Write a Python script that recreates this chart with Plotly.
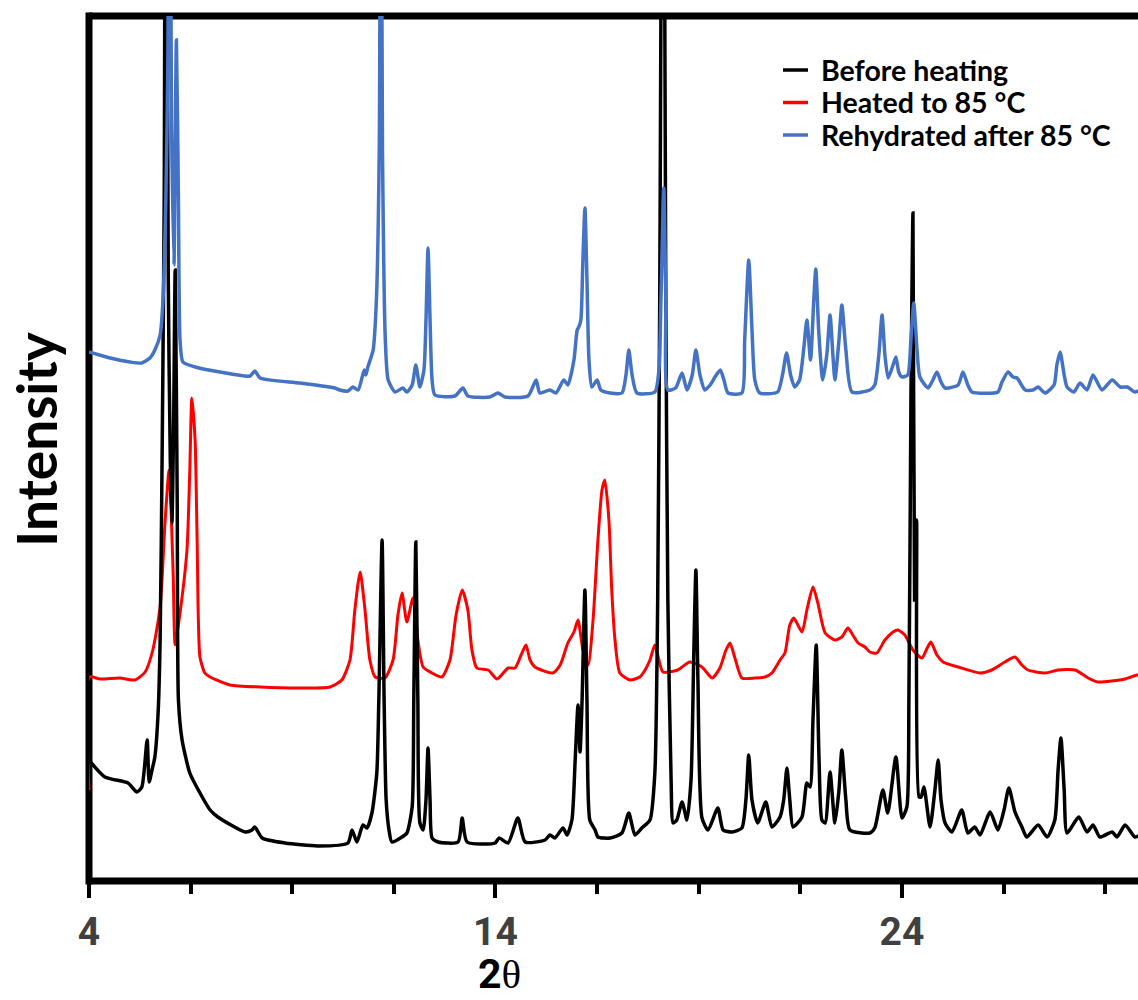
import plotly.graph_objects as go

# Powder XRD patterns: 2θ (degrees) and intensity (arbitrary units)
two_theta_before = [
    4.00, 4.39, 4.96, 5.18, 5.30, 5.43, 5.48, 5.55, 5.62, 5.70, 5.75, 5.80, 5.85, 5.89,
    5.95, 6.00, 6.04, 6.08, 6.12, 6.17, 6.20, 6.29, 6.48, 6.73, 6.98, 7.17, 7.84, 8.01,
    8.08, 8.26, 8.82, 9.63, 10.37, 10.47, 10.59, 10.74, 10.84, 10.96, 11.08, 11.13, 11.21,
    11.26, 11.31, 11.38, 11.45, 11.70, 11.82, 11.95, 11.99, 12.04, 12.09, 12.14, 12.22,
    12.29, 12.34, 12.39, 12.44, 12.59, 13.08, 13.18, 13.30, 13.99, 14.09, 14.31, 14.55,
    14.73, 15.22, 15.34, 15.46, 15.66, 15.76, 15.88, 15.96, 16.03, 16.08, 16.13, 16.20,
    16.25, 16.32, 16.45, 16.52, 16.82, 17.11, 17.28, 17.43, 17.60, 17.80, 17.92, 17.99,
    18.04, 18.12, 18.19, 18.24, 18.32, 18.37, 18.46, 18.59, 18.71, 18.81, 18.88, 18.93,
    18.98, 19.08, 19.23, 19.47, 19.60, 19.82, 20.06, 20.16, 20.23, 20.31, 20.45, 20.65,
    20.80, 21.00, 21.09, 21.17, 21.24, 21.32, 21.54, 21.66, 21.74, 21.81, 21.89, 21.96,
    22.03, 22.11, 22.23, 22.35, 22.45, 22.52, 22.62, 22.72, 23.21, 23.33, 23.53, 23.65,
    23.85, 24.00, 24.12, 24.17, 24.22, 24.27, 24.31, 24.36, 24.42, 24.47, 24.54, 24.69,
    24.81, 24.89, 24.96, 25.06, 25.23, 25.47, 25.62, 25.79, 25.92, 26.17, 26.36, 26.51,
    26.63, 26.78, 26.95, 27.07, 27.35, 27.57, 27.76, 27.84, 27.91, 27.99, 28.06, 28.35,
    28.55, 28.70, 28.87, 29.17, 29.29, 29.49, 29.73, 29.86,
]
intensity_before = [
    121, 104, 98, 89, 94, 141, 99, 111, 124, 168, 241, 431, 681, 1300,
    600, 420, 358, 450, 611, 381, 181, 141, 108, 88, 71, 64, 49, 51,
    54, 43, 38, 35, 38, 51, 39, 56, 53, 68, 108, 181, 341,
    181, 81, 51, 39, 44, 48, 74, 181, 339, 181, 58, 51,
    81, 133, 81, 43, 39, 39, 63, 39, 38, 43, 38, 63,
    39, 41, 46, 43, 53, 46, 61, 121, 176, 129, 181, 291,
    181, 61, 51, 44, 43, 48, 68, 46, 53, 61, 108, 281,
    581, 1300, 581, 281, 101, 58, 61, 79, 61, 101, 231, 311,
    201, 63, 51, 73, 51, 49, 53, 81, 126, 81, 58, 79,
    54, 64, 81, 113, 81, 54, 64, 98, 94, 161, 236, 121,
    61, 58, 109, 58, 91, 131, 81, 51, 48, 53, 91, 68,
    124, 63, 74, 181, 481, 668, 281, 361, 84, 84, 94, 54,
    91, 121, 81, 58, 49, 71, 48, 54, 46, 69, 51, 71,
    93, 69, 54, 44, 56, 44, 61, 111, 143, 91, 48, 64,
    49, 56, 44, 49, 44, 56, 44, 46,
]

two_theta_heated = [
    4.00, 4.01, 4.27, 4.76, 5.13, 5.38, 5.57, 5.75, 5.87, 5.97, 6.07, 6.12, 6.24, 6.41,
    6.48, 6.53, 6.61, 6.66, 6.73, 6.85, 6.98, 7.47, 8.21, 9.19, 9.93, 10.22, 10.42, 10.54,
    10.67, 10.79, 10.91, 11.04, 11.28, 11.48, 11.60, 11.70, 11.82, 11.97, 12.09, 12.22,
    12.44, 12.68, 12.88, 13.03, 13.18, 13.32, 13.42, 13.54, 13.82, 14.04, 14.31, 14.48,
    14.63, 14.75, 14.85, 14.97, 15.41, 15.59, 15.78, 15.93, 16.03, 16.15, 16.28, 16.40,
    16.52, 16.62, 16.69, 16.79, 16.86, 16.94, 17.06, 17.31, 17.55, 17.68, 17.80, 17.92,
    18.02, 18.12, 18.48, 18.78, 19.08, 19.33, 19.52, 19.67, 19.77, 19.89, 20.06, 20.38,
    20.63, 20.80, 21.00, 21.12, 21.24, 21.34, 21.54, 21.66, 21.81, 21.93, 22.11, 22.35,
    22.52, 22.67, 22.79, 22.92, 23.09, 23.21, 23.38, 23.58, 23.78, 23.90, 24.07, 24.27,
    24.49, 24.62, 24.71, 24.86, 25.01, 25.38, 25.92, 26.21, 26.53, 26.78, 26.95, 27.10,
    27.52, 27.84, 28.26, 28.58, 28.82, 29.49, 29.78, 29.86,
]
intensity_heated = [
    91, 204, 202, 203, 201, 209, 231, 274, 358, 411, 308, 236, 268, 331,
    411, 483, 441, 341, 224, 208, 204, 196, 194, 193, 194, 201, 221, 271,
    309, 271, 221, 204, 203, 221, 266, 288, 259, 283, 241, 214,
    208, 204, 221, 266, 291, 271, 231, 213, 211, 202, 213, 213,
    226, 236, 221, 214, 208, 216, 238, 249, 261, 231, 216, 261,
    341, 391, 401, 361, 291, 241, 208, 201, 204, 211, 221, 236,
    221, 209, 211, 219, 214, 203, 213, 231, 238, 223, 203, 203,
    204, 208, 221, 228, 256, 263, 249, 271, 294, 278, 248, 241,
    244, 253, 246, 238, 234, 229, 228, 241, 249, 251, 246, 231,
    223, 233, 239, 226, 219, 214, 208, 211, 219, 224, 216, 211,
    208, 211, 211, 203, 199, 202, 206, 206,
]

two_theta_rehydrated = [
    4.00, 4.52, 5.01, 5.30, 5.50, 5.62, 5.75, 5.82, 5.89, 5.94, 5.98, 6.03, 6.09, 6.15,
    6.20, 6.24, 6.31, 6.61, 7.22, 7.96, 8.08, 8.21, 9.19, 10.05, 10.17, 10.37, 10.49,
    10.62, 10.77, 10.81, 10.86, 10.99, 11.07, 11.14, 11.18, 11.22, 11.29, 11.36, 11.53,
    11.72, 11.82, 11.95, 12.04, 12.14, 12.24, 12.29, 12.34, 12.39, 12.44, 12.51, 13.00,
    13.20, 13.32, 13.86, 14.06, 14.23, 14.80, 15.00, 15.09, 15.34, 15.49, 15.68, 15.78,
    15.93, 16.01, 16.05, 16.10, 16.15, 16.20, 16.25, 16.30, 16.37, 16.50, 16.59, 16.82,
    17.11, 17.21, 17.28, 17.36, 17.48, 17.92, 18.02, 18.07, 18.14, 18.19, 18.24, 18.43,
    18.59, 18.71, 18.84, 18.93, 19.03, 19.15, 19.28, 19.40, 19.53, 19.62, 19.72, 20.06,
    20.13, 20.23, 20.31, 20.38, 20.50, 20.94, 21.06, 21.16, 21.26, 21.36, 21.48, 21.58,
    21.66, 21.75, 21.83, 21.88, 21.95, 22.05, 22.15, 22.23, 22.30, 22.35, 22.45, 22.52,
    22.62, 22.77, 23.21, 23.33, 23.43, 23.51, 23.58, 23.66, 23.78, 23.85, 23.92, 24.00,
    24.14, 24.22, 24.29, 24.37, 24.44, 24.64, 24.76, 24.86, 24.96, 25.06, 25.38, 25.50,
    25.62, 25.72, 26.36, 26.46, 26.61, 26.73, 26.83, 27.03, 27.22, 27.35, 27.52, 27.74,
    27.81, 27.89, 27.99, 28.06, 28.23, 28.38, 28.55, 28.70, 28.92, 29.17, 29.37, 29.54,
    29.73, 29.86,
]
intensity_rehydrated = [
    529, 523, 519, 518, 523, 531, 546, 581, 681, 821, 1200, 761, 616, 841,
    681, 541, 519, 514, 509, 505, 510, 503, 498, 493, 491, 490, 494,
    491, 511, 506, 514, 531, 581, 731, 1150, 731, 541, 501, 489,
    493, 489, 496, 516, 494, 511, 561, 633, 561, 501, 486, 485,
    493, 485, 484, 488, 484, 485, 501, 488, 491, 488, 501, 496,
    521, 551, 554, 561, 621, 673, 601, 521, 494, 501, 491, 488,
    488, 506, 531, 506, 488, 489, 511, 581, 693, 581, 491, 493,
    508, 491, 506, 531, 506, 491, 496, 504, 511, 501, 488, 488,
    541, 621, 551, 501, 488, 489, 506, 528, 506, 494, 501, 531,
    561, 521, 581, 612, 551, 501, 526, 566, 526, 501, 541, 576,
    531, 489, 491, 496, 526, 566, 526, 503, 516, 524, 509, 504,
    506, 541, 578, 531, 504, 493, 501, 509, 499, 493, 496, 509,
    496, 489, 489, 499, 509, 504, 503, 491, 491, 494, 488, 496,
    516, 529, 506, 494, 489, 498, 491, 506, 491, 501, 494, 494,
    489, 491,
]

series_names = ["Before heating", "Heated to 85 °C", "Rehydrated after 85 °C"]
series_colors = ["#000000", "#FF0000", "#4472C4"]
x_tick_values = [4, 14, 24]
x_tick_labels = ["4", "14", "24"]

# Plot-area geometry in pixels (figure is 1138 x 1000)
PLOT_LEFT, PLOT_TOP, PLOT_BOTTOM, PLOT_WIDTH = 89, 16, 881, 1049
PLOT_HEIGHT = PLOT_BOTTOM - PLOT_TOP


def paper_x(px):
    return (px - PLOT_LEFT) / PLOT_WIDTH


def paper_y(py):
    return (PLOT_BOTTOM - py) / PLOT_HEIGHT


fig = go.Figure()

# Heated pattern sits underneath, the rehydrated one on top
line_style = dict(shape="spline", smoothing=0.6)
fig.add_trace(go.Scatter(
    x=two_theta_heated, y=intensity_heated, mode="lines", name=series_names[1],
    line=dict(color=series_colors[1], width=3, **line_style), showlegend=False,
))
fig.add_trace(go.Scatter(
    x=two_theta_before, y=intensity_before, mode="lines", name=series_names[0],
    line=dict(color=series_colors[0], width=3.5, **line_style), showlegend=False,
))
fig.add_trace(go.Scatter(
    x=two_theta_rehydrated, y=intensity_rehydrated, mode="lines", name=series_names[2],
    line=dict(color=series_colors[2], width=3.5, **line_style), showlegend=False,
))

# Heavy frame on the left, bottom and top edges of the plotting area
frame = dict(type="line", xref="paper", yref="paper", layer="below",
             line=dict(color="black", width=7))
fig.add_shape(**frame, x0=0, x1=0, y0=-0.004, y1=1.004)
fig.add_shape(**frame, x0=0, x1=1, y0=0, y1=0)
fig.add_shape(**frame, x0=0, x1=1, y0=1, y1=1)

# Compact legend block in the upper right: short line sample + bold label
legend_rows = [70, 102.5, 135]
for name, color, row in zip(series_names, series_colors, legend_rows):
    fig.add_shape(type="line", xref="paper", yref="paper",
                  x0=paper_x(783), x1=paper_x(808), y0=paper_y(row), y1=paper_y(row),
                  line=dict(color=color, width=3.5))
    fig.add_annotation(
        x=paper_x(819), y=paper_y(row), xref="paper", yref="paper",
        xanchor="left", yanchor="middle", text=name, showarrow=False,
        font=dict(family="Lato, sans-serif", size=28.5, color="black", weight="bold"),
    )

# y-axis title
fig.add_annotation(
    x=paper_x(36), y=paper_y(440), xref="paper", yref="paper",
    xanchor="center", yanchor="middle", textangle=-90, text="Intensity", showarrow=False,
    font=dict(family="Lato, sans-serif", size=55, color="black", weight="bold"),
)

# x-axis title: bold "2" with a serif theta
fig.add_annotation(
    x=14.1, xref="x", y=paper_y(974), yref="paper", xanchor="center", yanchor="middle",
    text="<b>2</b><span style='font-family:Liberation Serif'>θ</span>",
    showarrow=False, borderpad=0,
    font=dict(family="Liberation Sans Narrow, Roboto, sans-serif", size=41, color="black"),
)

fig.update_layout(
    width=1138, height=1000,
    margin=dict(l=PLOT_LEFT, r=1138 - PLOT_LEFT - PLOT_WIDTH, t=PLOT_TOP,
                b=1000 - PLOT_BOTTOM, pad=0),
    paper_bgcolor="white", plot_bgcolor="white",
    showlegend=False,
    xaxis=dict(
        range=[4, 29.806], showgrid=False, zeroline=False, showline=False,
        tickmode="array", tickvals=x_tick_values, ticktext=x_tick_labels,
        ticks="outside", ticklen=16, tickwidth=4, tickcolor="black",
        tickfont=dict(family="Liberation Sans Narrow, Roboto, sans-serif", size=39,
                      color="#404040", weight="bold"),
        minor=dict(tick0=4, dtick=2.5, ticks="outside", ticklen=12, tickwidth=4,
                   tickcolor="black", showgrid=False),
    ),
    yaxis=dict(
        range=[0, 865], showgrid=False, zeroline=False, showline=False,
        showticklabels=False, ticks="",
    ),
)

fig.write_html("out.html")
